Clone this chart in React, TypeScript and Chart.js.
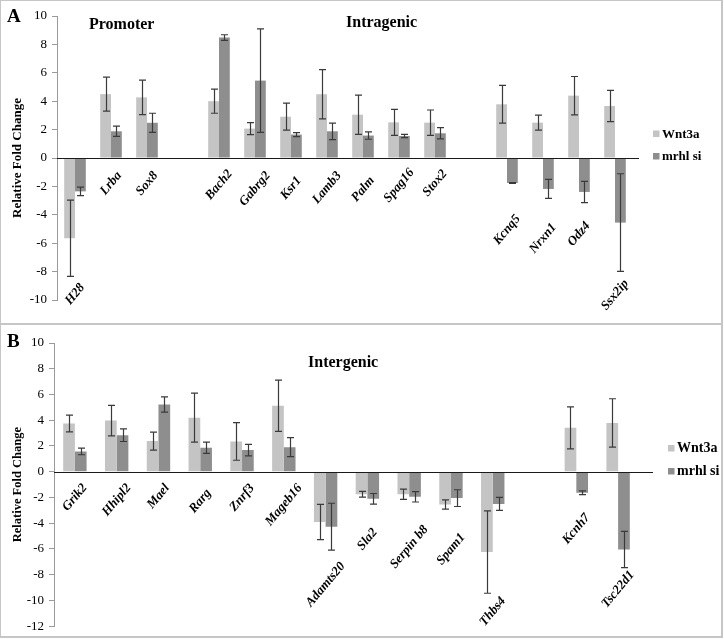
import React, { useEffect, useRef } from 'react';
import { Chart, registerables } from 'chart.js';

Chart.register(...registerables);

const FONT = "'Liberation Serif', 'Times New Roman', Times, serif";

// ---------- Panel A data ----------
const categoriesA = ['H28', 'Lrba', 'Sox8', '', 'Bach2', 'Gabrg2', 'Ksr1', 'Lamb3', 'Palm', 'Spag16', 'Stox2', '', 'Kcnq5', 'Nrxn1', 'Odz4', 'Ssx2ip'];
const wnt3aA = [-5.65, 4.5, 4.27, null, 4.0, 2.07, 2.91, 4.49, 3.05, 2.51, 2.49, null, 3.78, 2.49, 4.39, 3.66];
const wnt3aErrA = [2.68, 1.2, 1.22, null, 0.85, 0.42, 0.95, 1.73, 1.38, 0.92, 0.89, null, 1.33, 0.53, 1.35, 1.1];
const mrhlA = [-2.35, 1.88, 2.48, null, 8.48, 5.45, 1.65, 1.88, 1.58, 1.55, 1.74, null, -1.76, -2.18, -2.39, -4.55];
const mrhlErrA = [0.3, 0.36, 0.67, null, 0.2, 3.65, 0.14, 0.58, 0.26, 0.12, 0.4, null, 0.03, 0.67, 0.75, 3.44];
// value level at which each rotated gene label starts (top of label)
const labelLevelA = [-8.75, -0.86, -0.86, null, -0.73, -0.86, -1.22, -0.86, -1.22, -0.65, -0.73, null, -3.9, -4.5, -4.4, -8.47];

// ---------- Panel B data ----------
const categoriesB = ['Grik2', 'Hhipl2', 'Mael', 'Rarg', 'Znrf3', 'Mageb16', 'Adamts20', 'Sla2', 'Serpin b8', 'Spam1', 'Thbs4', '', 'Kcnh7', 'Tsc22d1'];
const wnt3aB = [3.74, 3.97, 2.38, 4.2, 2.35, 5.12, -3.9, -1.75, -1.75, -2.55, -6.24, null, 3.41, 3.79];
const wnt3aErrB = [0.65, 1.19, 0.7, 1.9, 1.46, 1.99, 1.37, 0.22, 0.4, 0.36, 3.2, null, 1.63, 1.88];
const mrhlB = [1.58, 2.84, 5.22, 1.86, 1.68, 1.91, -4.27, -2.1, -1.95, -2.05, -2.5, null, -1.63, -6.04];
const mrhlErrB = [0.26, 0.49, 0.59, 0.44, 0.45, 0.74, 1.82, 0.41, 0.4, 0.65, 0.51, null, 0.15, 1.41];
const labelLevelB = [-0.83, -0.83, -0.85, -1.24, -0.85, -0.85, -6.93, -4.3, -4.07, -4.69, -9.63, null, -3.14, -7.6];

const seriesNames = ['Wnt3a', 'mrhl si'];
const seriesColors = ['#c4c4c4', '#8e8e8e'];
const yTitle = 'Relative Fold Change';

type Panel = {
  cats: string[];
  series: (number | null)[][];
  errs: (number | null)[][];
  levels: (number | null)[];
  yMin: number;
  yMax: number;
  height: number;
  axisW: number;
  padTop: number;
  padBottom: number;
  padRight: number;
  catPct: number;
  zeroExt: number;
  letter: string;
  letterY: number;
  titles: { text: string; x: number; y: number }[];
  legendX: number;
  legendY: number;
  legendGap: number;
  legendSize: number;
  yTitleSize: number;
  yTitlePad: number;
};

const panelA: Panel = {
  cats: categoriesA,
  series: [wnt3aA, mrhlA],
  errs: [wnt3aErrA, mrhlErrA],
  levels: labelLevelA,
  yMin: -10,
  yMax: 10,
  height: 324,
  axisW: 57,
  padTop: 16,
  padBottom: 24,
  padRight: 91,
  catPct: 0.6,
  zeroExt: 6,
  letter: 'A',
  letterY: 22,
  titles: [
    { text: 'Promoter', x: 89, y: 29 },
    { text: 'Intragenic', x: 346, y: 27 },
  ],
  legendX: 653,
  legendY: 137.5,
  legendGap: 22.5,
  legendSize: 13,
  yTitleSize: 13,
  yTitlePad: 10,
};

const panelB: Panel = {
  cats: categoriesB,
  series: [wnt3aB, mrhlB],
  errs: [wnt3aErrB, mrhlErrB],
  levels: labelLevelB,
  yMin: -12,
  yMax: 10,
  height: 315,
  axisW: 54,
  padTop: 19,
  padBottom: 11,
  padRight: 85,
  catPct: 0.56,
  zeroExt: 14,
  letter: 'B',
  letterY: 23,
  titles: [{ text: 'Intergenic', x: 308, y: 43 }],
  legendX: 668,
  legendY: 128,
  legendGap: 23,
  legendSize: 14,
  yTitleSize: 12.5,
  yTitlePad: 10,
};

const LABEL_ANGLE = (50 * Math.PI) / 180;

function buildChart(canvas: HTMLCanvasElement, p: Panel) {
  const overlay = {
    id: 'overlay',
    afterDatasetsDraw(chart: any) {
      const ctx = chart.ctx;
      const ys = chart.scales.y;
      const area = chart.chartArea;
      // zero line
      const y0 = Math.round(ys.getPixelForValue(0)) + 0.5;
      ctx.save();
      ctx.strokeStyle = '#1a1a1a';
      ctx.lineWidth = 1.2;
      ctx.beginPath();
      ctx.moveTo(area.left, y0);
      ctx.lineTo(area.right + p.zeroExt, y0);
      ctx.stroke();
      // error bars
      ctx.strokeStyle = '#3a3a3a';
      ctx.lineWidth = 1.2;
      p.series.forEach((vals, si) => {
        const meta = chart.getDatasetMeta(si);
        vals.forEach((v, i) => {
          const e = p.errs[si][i];
          if (v === null || e === null) return;
          const el = meta.data[i];
          const x = Math.round(el.x) + 0.5;
          const yt = ys.getPixelForValue(v + e);
          const yb = ys.getPixelForValue(v - e);
          ctx.beginPath();
          ctx.moveTo(x, yt);
          ctx.lineTo(x, yb);
          ctx.moveTo(x - 3.5, yt);
          ctx.lineTo(x + 3.5, yt);
          ctx.moveTo(x - 3.5, yb);
          ctx.lineTo(x + 3.5, yb);
          ctx.stroke();
        });
      });
      ctx.restore();
    },
    afterDraw(chart: any) {
      const ctx = chart.ctx;
      const xs = chart.scales.x;
      const ys = chart.scales.y;
      ctx.save();
      // gene labels
      const fs = 13;
      ctx.font = `italic bold ${fs}px ${FONT}`;
      ctx.fillStyle = '#000';
      const sn = Math.sin(LABEL_ANGLE);
      const cs = Math.cos(LABEL_ANGLE);
      p.cats.forEach((c, i) => {
        const lvl = p.levels[i];
        if (!c || lvl === null) return;
        const cx = xs.getPixelForValue(i);
        const w = ctx.measureText(c).width;
        const h = fs * 0.75;
        const top = ys.getPixelForValue(lvl);
        const cy = top + (w * sn + h * cs) / 2;
        ctx.save();
        ctx.translate(cx, cy);
        ctx.rotate(-LABEL_ANGLE);
        ctx.textAlign = 'center';
        ctx.textBaseline = 'middle';
        ctx.fillText(c, 0, 0);
        ctx.restore();
      });
      // panel letter
      ctx.font = `bold 19px ${FONT}`;
      ctx.textAlign = 'left';
      ctx.textBaseline = 'alphabetic';
      ctx.fillText(p.letter, 7, p.letterY);
      // section titles
      ctx.font = `bold 16px ${FONT}`;
      p.titles.forEach((t) => ctx.fillText(t.text, t.x, t.y));
      // legend
      ctx.font = `bold ${p.legendSize}px ${FONT}`;
      seriesNames.forEach((n, i) => {
        const by = p.legendY + i * p.legendGap;
        ctx.fillStyle = seriesColors[i];
        ctx.fillRect(p.legendX, by - 7, 6.5, 6.5);
        ctx.fillStyle = '#000';
        ctx.fillText(n, p.legendX + 9, by);
      });
      ctx.restore();
    },
  };

  return new Chart(canvas, {
    type: 'bar',
    data: {
      labels: p.cats,
      datasets: p.series.map((vals, si) => ({
        label: seriesNames[si],
        data: vals,
        backgroundColor: seriesColors[si],
        borderWidth: 0,
        categoryPercentage: p.catPct,
        barPercentage: 1.0,
      })),
    },
    options: {
      responsive: false,
      animation: false,
      devicePixelRatio: 1,
      layout: { padding: { left: 0, top: p.padTop, right: p.padRight, bottom: p.padBottom } },
      plugins: { legend: { display: false }, tooltip: { enabled: false } },
      scales: {
        x: { display: false },
        y: {
          min: p.yMin,
          max: p.yMax,
          ticks: { stepSize: 2, color: '#000', padding: 5, font: { family: FONT, size: 13 } },
          grid: { drawOnChartArea: false, drawTicks: true, tickLength: 5, color: '#9a9a9a' },
          border: { display: true, color: '#9a9a9a', width: 1 },
          title: {
            display: true,
            text: yTitle,
            color: '#000',
            font: { family: FONT, size: p.yTitleSize, weight: 'bold' },
            padding: { top: p.yTitlePad, bottom: 0 },
          },
          afterFit: (s: any) => {
            s.width = p.axisW;
          },
        },
      },
    },
    plugins: [overlay],
  } as any);
}

function PanelChart({ p, top }: { p: Panel; top: number }) {
  const ref = useRef<HTMLCanvasElement | null>(null);
  useEffect(() => {
    if (!ref.current) return;
    const c = buildChart(ref.current, p);
    return () => c.destroy();
  }, [p]);
  return (
    <canvas
      ref={ref}
      width={724}
      height={p.height}
      style={{ position: 'absolute', left: 0, top, width: 724, height: p.height, display: 'block' }}
    />
  );
}

export default function App() {
  return (
    <div style={{ position: 'absolute', left: 0, top: 0, width: 724, height: 639, background: '#fff', overflow: 'hidden' }}>
      <PanelChart p={panelA} top={0} />
      <PanelChart p={panelB} top={324} />
      <div
        style={{
          position: 'absolute',
          left: 0,
          top: 0,
          width: 720,
          height: 635,
          borderStyle: 'solid',
          borderColor: '#c6c6c6',
          borderWidth: '1px 2px 2px 1px',
          pointerEvents: 'none',
        }}
      />
      <div style={{ position: 'absolute', left: 0, top: 323, width: 723, height: 2, background: '#c6c6c6' }} />
    </div>
  );
}
